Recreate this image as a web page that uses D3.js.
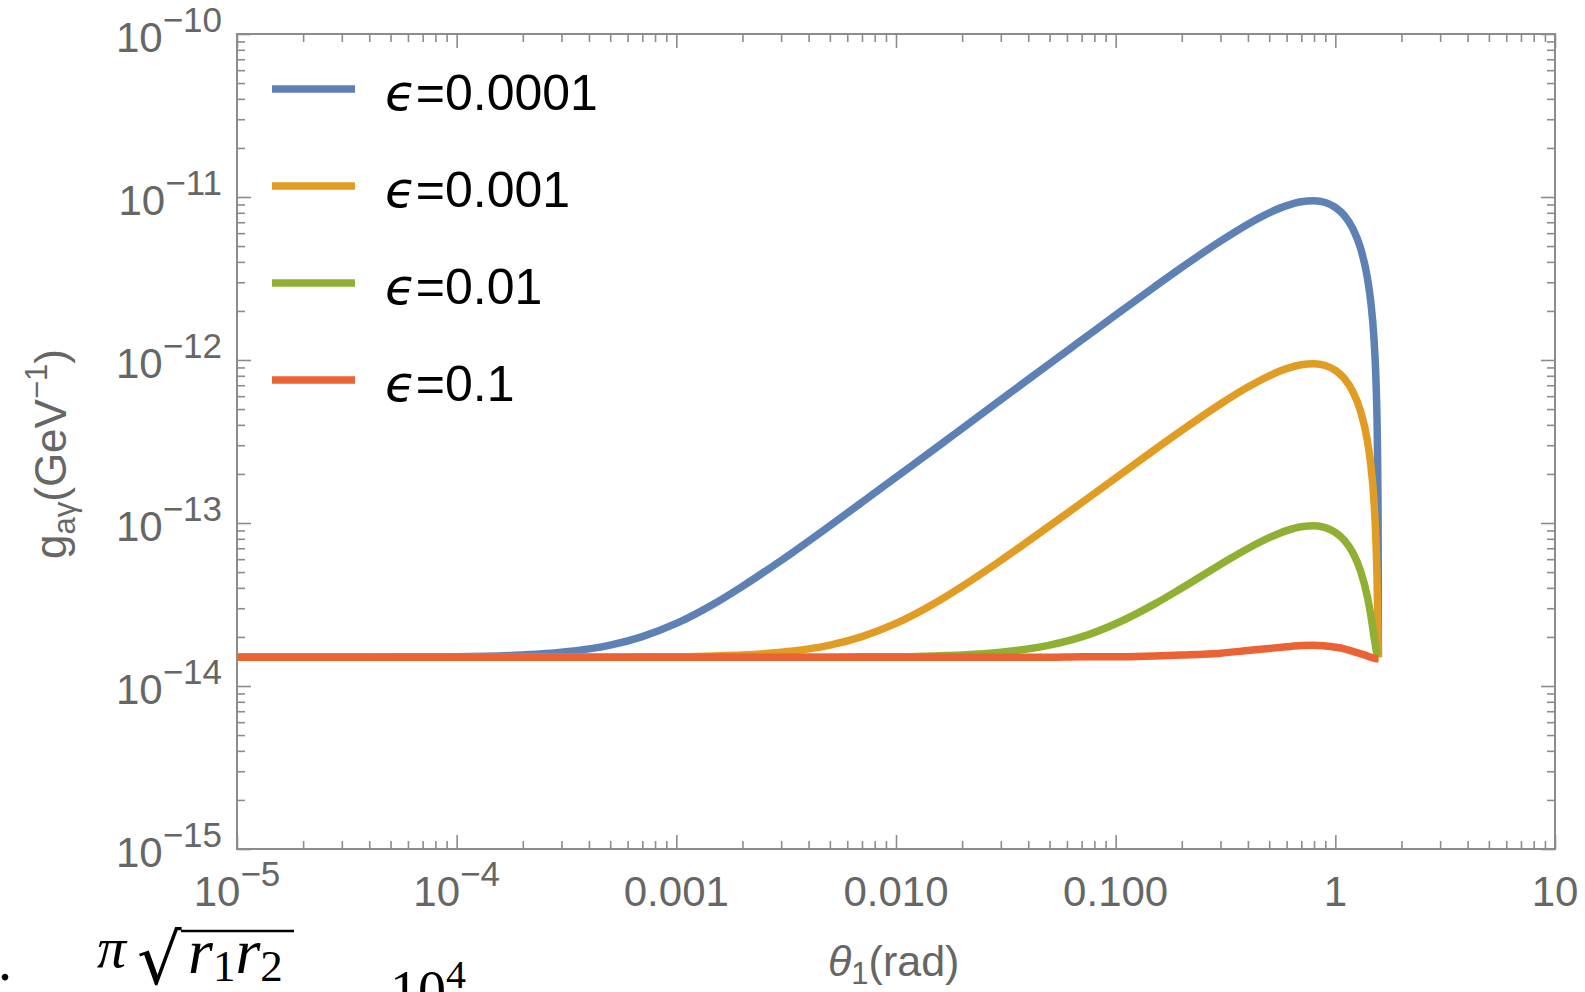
<!DOCTYPE html>
<html>
<head>
<meta charset="utf-8">
<script src="https://cdn.jsdelivr.net/npm/d3@7"></script>
<style>
  html, body { margin: 0; padding: 0; background: #ffffff; overflow: hidden; }
  svg { display: block; }
</style>
</head>
<body>
<script>
// Mixing angle θ1 (rad) at which the coupling is evaluated
const thetaRad = [1e-5, 3e-5, 1e-4, 2e-4, 3e-4, 5e-4, 7e-4, 1e-3, 1.5e-3, 2e-3, 3e-3, 5e-3, 7e-3,
  0.01, 0.015, 0.02, 0.03, 0.05, 0.07, 0.1, 0.15, 0.2, 0.3, 0.4, 0.5, 0.6, 0.7, 0.8, 0.9,
  1.0, 1.1, 1.2, 1.3, 1.4, 1.45, 1.5, 1.53, 1.55, 1.56, 1.565, 1.568, 1.5708];

// g_aγ in units of 1e-14 GeV^-1, one array per ε
const G_UNIT = 1e-14;
const gEps0001 = [1.50, 1.50, 1.51, 1.55, 1.61, 1.78, 2.01, 2.42, 3.22, 4.09, 5.89, 9.62, 13.4,
  19.1, 28.5, 38.0, 57.0, 94.9, 132.5, 188.8, 280.7, 369.9, 536.4, 681.5, 799.4, 885.4, 936.1, 949.6, 925.1,
  863.8, 768.1, 641.7, 489.7, 318.3, 227.2, 134.0, 77.5, 39.5, 20.6, 11.1, 5.53, 1.50];
const gEps001 = [1.50, 1.50, 1.50, 1.50, 1.50, 1.50, 1.51, 1.51, 1.53, 1.55, 1.61, 1.78, 2.01,
  2.42, 3.22, 4.09, 5.89, 9.60, 13.3, 18.9, 28.1, 37.0, 53.7, 68.2, 80.0, 88.6, 93.6, 95.0, 92.5,
  86.4, 76.8, 64.2, 49.0, 31.9, 22.8, 13.5, 7.89, 4.23, 2.54, 1.86, 1.59, 1.50];
const gEps01 = [1.50, 1.50, 1.50, 1.50, 1.50, 1.50, 1.50, 1.50, 1.50, 1.50, 1.50, 1.50, 1.51,
  1.51, 1.53, 1.55, 1.61, 1.78, 2.00, 2.41, 3.18, 3.99, 5.57, 6.98, 8.13, 8.98, 9.48, 9.61, 9.37,
  8.77, 7.83, 6.59, 5.12, 3.52, 2.72, 2.01, 1.69, 1.55, 1.51, 1.50, 1.50, 1.50];
const gEps1 = [1.50, 1.50, 1.50, 1.50, 1.50, 1.50, 1.50, 1.50, 1.50, 1.50, 1.50, 1.50, 1.50,
  1.50, 1.50, 1.50, 1.50, 1.50, 1.51, 1.51, 1.53, 1.55, 1.59, 1.65, 1.70, 1.74, 1.77, 1.78, 1.76,
  1.73, 1.69, 1.63, 1.58, 1.53, 1.50, 1.48, 1.47, 1.47, 1.47, 1.47, 1.47, 1.47];

const seriesNames = ["0.0001", "0.001", "0.01", "0.1"];
const seriesValues = [gEps0001, gEps001, gEps01, gEps1];
const seriesColors = ["#5E81B5", "#E19C24", "#8FB032", "#EB6235"];

// Tick labels
const xTickValues = [1e-5, 1e-4, 1e-3, 1e-2, 1e-1, 1, 10];
const xTickLabels = ["10^−5", "10^−4", "0.001", "0.010", "0.100", "1", "10"];
const yTickValues = [1e-15, 1e-14, 1e-13, 1e-12, 1e-11, 1e-10];
const yTickLabels = ["10^−15", "10^−14", "10^−13", "10^−12", "10^−11", "10^−10"];

const W = 1585, H = 992;
const plot = { left: 237, right: 1555, top: 34, bottom: 849 };
const frameColor = "#8c8c8c";
const labelColor = "#666666";
const sans = "'Liberation Sans', Arial, sans-serif";
const serif = "'Liberation Serif', 'DejaVu Serif', serif";

const svg = d3.select("body").append("svg").attr("width", W).attr("height", H);

const x = d3.scaleLog().domain([1e-5, 10]).range([plot.left, plot.right]);
const y = d3.scaleLog().domain([1e-15, 1e-10]).range([plot.bottom, plot.top]);

function minorTicks(domain) {
  const lo = Math.round(Math.log10(domain[0])), hi = Math.round(Math.log10(domain[1]));
  const t = [];
  for (let e = lo; e < hi; e++) for (let k = 2; k <= 9; k++) t.push(k * Math.pow(10, e));
  return t;
}
const xMinor = minorTicks(x.domain());
const yMinor = minorTicks(y.domain());

// Inward-pointing frame ticks on all four sides
function tickLayer(axis, transform) {
  const g = svg.append("g").attr("transform", transform).call(axis);
  g.select(".domain").remove();
  g.selectAll(".tick line").attr("stroke", frameColor).attr("stroke-width", 1.6);
  g.selectAll(".tick text").remove();
}
const MAJ = -14, MIN = -8;
tickLayer(d3.axisBottom(x).tickValues(xTickValues).tickSize(MAJ).tickFormat(""), `translate(0,${plot.bottom})`);
tickLayer(d3.axisBottom(x).tickValues(xMinor).tickSize(MIN).tickFormat(""), `translate(0,${plot.bottom})`);
tickLayer(d3.axisTop(x).tickValues(xTickValues).tickSize(MAJ).tickFormat(""), `translate(0,${plot.top})`);
tickLayer(d3.axisTop(x).tickValues(xMinor).tickSize(MIN).tickFormat(""), `translate(0,${plot.top})`);
tickLayer(d3.axisLeft(y).tickValues(yTickValues).tickSize(MAJ).tickFormat(""), `translate(${plot.left},0)`);
tickLayer(d3.axisLeft(y).tickValues(yMinor).tickSize(MIN).tickFormat(""), `translate(${plot.left},0)`);
tickLayer(d3.axisRight(y).tickValues(yTickValues).tickSize(MAJ).tickFormat(""), `translate(${plot.right},0)`);
tickLayer(d3.axisRight(y).tickValues(yMinor).tickSize(MIN).tickFormat(""), `translate(${plot.right},0)`);

// Curves
svg.append("clipPath").attr("id", "plotClip").append("rect")
  .attr("x", plot.left).attr("y", plot.top)
  .attr("width", plot.right - plot.left).attr("height", plot.bottom - plot.top);

const line = d3.line()
  .x(d => x(d[0]))
  .y(d => y(d[1] * G_UNIT))
  .curve(d3.curveMonotoneX);

const curves = svg.append("g").attr("clip-path", "url(#plotClip)");
seriesValues.forEach((vals, i) => {
  curves.append("path")
    .datum(thetaRad.map((t, j) => [t, vals[j]]))
    .attr("d", line)
    .attr("fill", "none")
    .attr("stroke", seriesColors[i])
    .attr("stroke-width", 7.5)
    .attr("stroke-linejoin", "round");
});

// Frame
svg.append("rect")
  .attr("x", plot.left).attr("y", plot.top)
  .attr("width", plot.right - plot.left).attr("height", plot.bottom - plot.top)
  .attr("fill", "none").attr("stroke", frameColor).attr("stroke-width", 2);

// Tick labels with optional superscript exponent
const TICK_FS = 42, EXP_FS = 35, EXP_RISE = 20;
function powerLabel(sel, label) {
  const parts = label.split("^");
  sel.append("tspan").text(parts[0]);
  if (parts.length > 1) {
    sel.append("tspan").attr("dy", -EXP_RISE).attr("font-size", EXP_FS).text(parts[1]);
  }
}
xTickValues.forEach((v, i) => {
  const t = svg.append("text")
    .attr("x", x(v)).attr("y", 906)
    .attr("text-anchor", "middle")
    .attr("font-family", sans).attr("font-size", TICK_FS).attr("fill", labelColor);
  powerLabel(t, xTickLabels[i]);
});
yTickValues.forEach((v, i) => {
  const t = svg.append("text")
    .attr("x", plot.left - 15).attr("y", y(v) + 18)
    .attr("text-anchor", "end")
    .attr("font-family", sans).attr("font-size", TICK_FS).attr("fill", labelColor);
  powerLabel(t, yTickLabels[i]);
});

// Axis titles
const xt = svg.append("text")
  .attr("x", 828).attr("y", 976)
  .attr("font-family", sans).attr("font-size", 43).attr("fill", labelColor);
xt.append("tspan").attr("font-style", "italic").text("θ");
xt.append("tspan").attr("font-size", 31).attr("dy", 8).text("1");
xt.append("tspan").attr("dy", -8).text("(rad)");

const yt = svg.append("text")
  .attr("transform", "translate(66,559) rotate(-90)")
  .attr("font-family", sans).attr("font-size", 44).attr("fill", labelColor);
yt.append("tspan").text("g");
yt.append("tspan").attr("font-size", 31).attr("dy", 9).text("aγ");
yt.append("tspan").attr("dy", -9).text("(GeV");
yt.append("tspan").attr("font-size", 31).attr("dy", -19).text("−1");
yt.append("tspan").attr("dy", 19).text(")");

// Legend
const legend = svg.append("g");
seriesNames.forEach((name, i) => {
  const ly = 89 + i * 97;
  legend.append("line")
    .attr("x1", 272).attr("x2", 355).attr("y1", ly).attr("y2", ly)
    .attr("stroke", seriesColors[i]).attr("stroke-width", 7.5);
  const t = legend.append("text")
    .attr("x", 385).attr("y", ly + 21)
    .attr("font-family", sans).attr("font-size", 50).attr("fill", "#000");
  t.append("tspan").attr("font-family", "'DejaVu Sans', sans-serif").attr("font-style", "italic").text("ϵ");
  t.append("tspan").text("=" + name);
});

// Surrounding text line below the figure
svg.append("text").attr("x", -2).attr("y", 980)
  .attr("font-family", serif).attr("font-size", 56).attr("fill", "#000").text(".");
svg.append("text").attr("x", 97).attr("y", 967)
  .attr("font-family", serif).attr("font-style", "italic").attr("font-size", 58).attr("fill", "#000").text("π");
svg.append("text").attr("x", 137).attr("y", 984)
  .attr("font-family", "'DejaVu Serif', serif").attr("font-size", 70).attr("fill", "#000").text("√");
svg.append("line").attr("x1", 181).attr("x2", 294).attr("y1", 931).attr("y2", 931)
  .attr("stroke", "#000").attr("stroke-width", 2.5);
const rr = svg.append("text").attr("x", 188).attr("y", 973)
  .attr("font-family", serif).attr("font-size", 64).attr("fill", "#000");
rr.append("tspan").attr("font-style", "italic").text("r");
rr.append("tspan").attr("font-size", 45).attr("dy", 8).text("1");
rr.append("tspan").attr("font-style", "italic").attr("dy", -8).text("r");
rr.append("tspan").attr("font-size", 45).attr("dy", 8).text("2");
const tenFour = svg.append("text").attr("x", 390).attr("y", 1010)
  .attr("font-family", serif).attr("font-size", 56).attr("fill", "#000");
tenFour.append("tspan").text("10");
tenFour.append("tspan").attr("font-size", 40).attr("dy", -22).text("4");
</script>
</body>
</html>
